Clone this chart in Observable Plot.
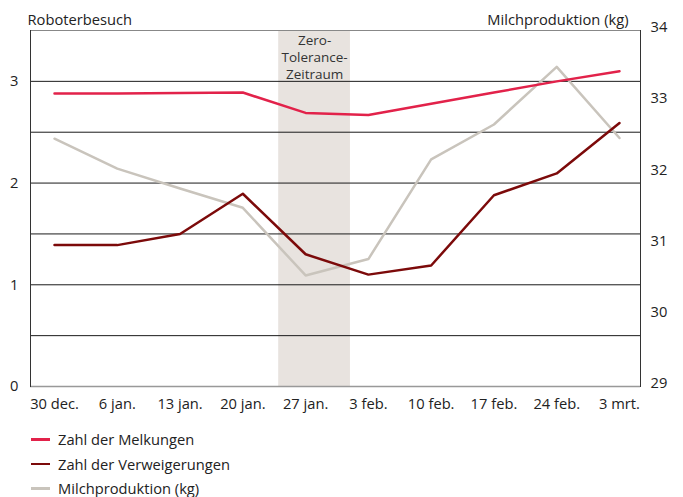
<!DOCTYPE html>
<html>
<head>
<meta charset="utf-8">
<script src="https://cdn.jsdelivr.net/npm/d3@7"></script>
<script src="https://cdn.jsdelivr.net/npm/@observablehq/plot@0.6"></script>
<style>
  body { margin: 0; background: #fff; font-family: "Open Sans", sans-serif; overflow: hidden; }
  #legend { margin-left: 31px; font-size: 14.7px; color: #222; }
  #legend .item { display: flex; align-items: center; height: 24.5px; }
  #legend .sw { width: 19px; height: 2.5px; margin-right: 8px; flex: none; }
  #legend .tx { line-height: 16px; }
</style>
</head>
<body>
<div id="chart"></div>
<div id="legend"></div>
<script>
const dates = ["2018-12-30","2019-01-06","2019-01-13","2019-01-20","2019-01-27","2019-02-03","2019-02-10","2019-02-17","2019-02-24","2019-03-03"];
const dateLabels = ["30 dec.","6 jan.","13 jan.","20 jan.","27 jan.","3 feb.","10 feb.","17 feb.","24 feb.","3 mrt."];
const melkungen = [2.88, 2.88, 2.885, 2.89, 2.69, 2.67, 2.78, 2.89, 3.0, 3.10];
const verweigerungen = [1.39, 1.39, 1.50, 1.895, 1.30, 1.10, 1.19, 1.88, 2.095, 2.59];
const milch = [32.48, 32.06, 31.78, 31.51, 30.56, 30.79, 32.19, 32.68, 33.49, 32.49];
const leftTicks = [0, 1, 2, 3];
const gridValues = [0.5, 1, 1.5, 2, 2.5, 3];
const rightTicks = [29, 30, 31, 32, 33, 34];
const zeroTol = { start: "2019-01-24", end: "2019-02-01", mid: "2019-01-28", label: "Zero-\nTolerance-\nZeitraum" };
const seriesNames = ["Zahl der Melkungen", "Zahl der Verweigerungen", "Milchproduktion (kg)"];
const seriesColors = ["#e2224a", "#7c0a0a", "#c9c4bc"];
const leftTitle = "Roboterbesuch";
const rightTitle = "Milchproduktion (kg)";

const parse = d3.utcParse("%Y-%m-%d");
const dd = dates.map(parse);
const toLeft = v => (v - 29) * 0.7;
const labelOf = new Map(dd.map((d, i) => [+d, dateLabels[i]]));

const rows = [];
dd.forEach((d, i) => {
  rows.push({date: d, series: seriesNames[0], y: melkungen[i]});
  rows.push({date: d, series: seriesNames[1], y: verweigerungen[i]});
  rows.push({date: d, series: seriesNames[2], y: toLeft(milch[i])});
});

const chart = Plot.plot({
  width: 683,
  height: 420,
  marginTop: 30,
  marginBottom: 34,
  marginLeft: 30,
  marginRight: 43,
  style: { fontFamily: "Open Sans, sans-serif", fontSize: "14.7px", color: "#222" },
  x: { type: "utc", domain: [dd[0], dd[dd.length - 1]], insetLeft: 24, insetRight: 21 },
  y: { domain: [0, 3.5] },
  color: { domain: seriesNames, range: seriesColors },
  marks: [
    Plot.rect([zeroTol], { x1: d => parse(d.start), x2: d => parse(d.end), y1: 0, y2: 3.5, fill: "#e8e3df" }),
    Plot.text([zeroTol], { x: d => parse(d.mid), text: "label", frameAnchor: "top", lineAnchor: "top", dy: 3, fontSize: 13.5, lineHeight: 1.24, fill: "#333" }),
    Plot.ruleY(gridValues, { stroke: "#1a1a1a", strokeWidth: 1 }),
    Plot.ruleY([0], { stroke: "#999", strokeWidth: 1.5 }),
    Plot.ruleY([3.5], { stroke: "#888", strokeWidth: 1 }),
    Plot.line(rows.filter(r => r.series === seriesNames[2]), { x: "date", y: "y", stroke: "series", strokeWidth: 2.5 }),
    Plot.line(rows.filter(r => r.series === seriesNames[0]), { x: "date", y: "y", stroke: "series", strokeWidth: 2.5 }),
    Plot.line(rows.filter(r => r.series === seriesNames[1]), { x: "date", y: "y", stroke: "series", strokeWidth: 2.5 }),
    Plot.axisY(leftTicks, { anchor: "left", tickSize: 0, tickPadding: 12, label: null, tickFormat: d3.format("d") }),
    Plot.axisY(rightTicks.map(toLeft), { anchor: "right", tickSize: 0, tickPadding: 10, label: null, tickFormat: v => String(Math.round(v / 0.7 + 29)), dy: -3 }),
    Plot.axisX(dd, { tickSize: 0, tickPadding: 12, label: null, tickFormat: d => labelOf.get(+d) }),
    Plot.frame({ anchor: "left", stroke: "#333" }),
    Plot.frame({ anchor: "right", stroke: "#333" }),
    Plot.text([leftTitle], { frameAnchor: "top-left", dx: -3, dy: -16, fontSize: 14.7, fill: "#222", textAnchor: "start" }),
    Plot.text([rightTitle], { frameAnchor: "top-right", dx: -12, dy: -16, fontSize: 14.7, fill: "#222", textAnchor: "end" })
  ]
});
document.getElementById("chart").append(chart);

const legend = document.getElementById("legend");
legend.style.marginTop = "7px";
seriesNames.forEach((name, i) => {
  const item = document.createElement("div");
  item.className = "item";
  const sw = document.createElement("span");
  sw.className = "sw";
  sw.style.background = seriesColors[i];
  const t = document.createElement("span");
  t.className = "tx";
  t.textContent = name;
  item.append(sw, t);
  legend.append(item);
});
</script>
</body>
</html>
